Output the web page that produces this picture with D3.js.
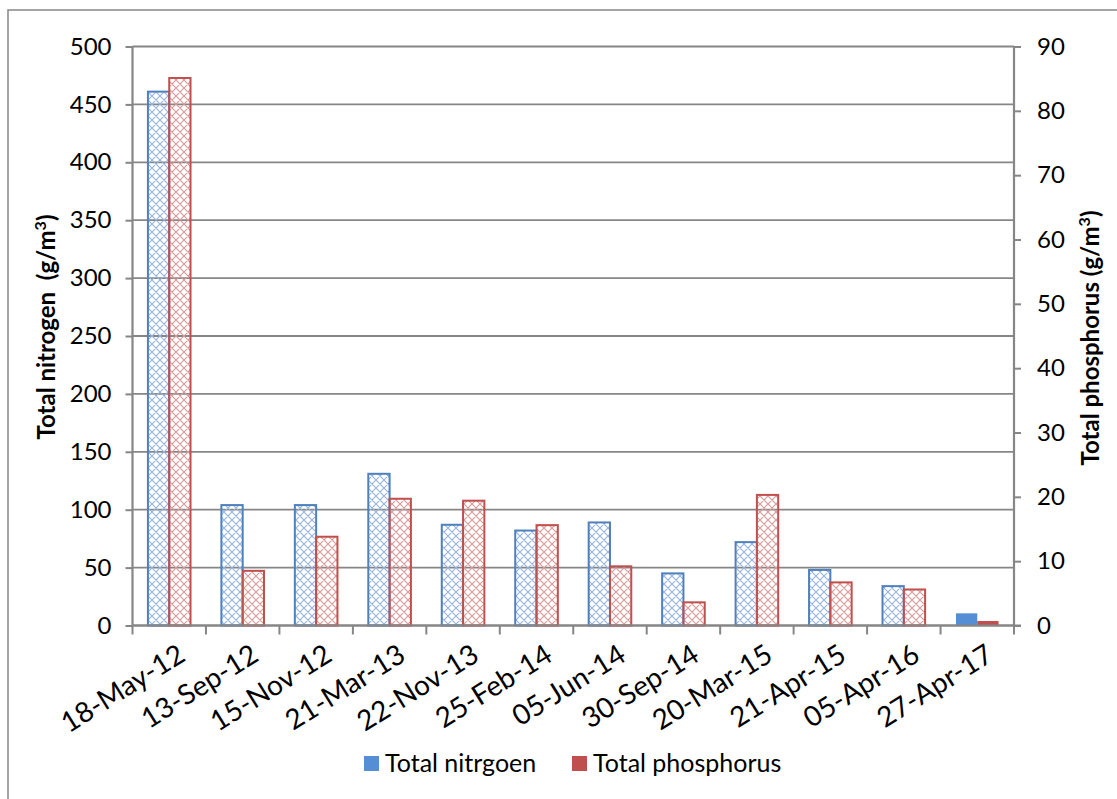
<!DOCTYPE html>
<html><head><meta charset="utf-8">
<script src="https://cdn.jsdelivr.net/npm/d3@7"></script>
<style>body{margin:0;background:#fff}svg{display:block}text{font-family:Lato,"Open Sans",sans-serif;fill:#000}</style>
</head><body><svg id="c" width="1117" height="799"></svg>
<script>
const categories = ["18-May-12","13-Sep-12","15-Nov-12","21-Mar-13","22-Nov-13","25-Feb-14","05-Jun-14","30-Sep-14","20-Mar-15","21-Apr-15","05-Apr-16","27-Apr-17"];
const nitrogen = [461,104,104,131,87,82,89,45,72,48,34,10.5];
const phosphorus = [85.1,8.5,13.8,19.7,19.4,15.6,9.2,3.6,20.3,6.7,5.6,0.7];
const leftTicks = [0,50,100,150,200,250,300,350,400,450,500];
const rightTicks = [0,10,20,30,40,50,60,70,80,90];
const solidIndex = [11];

const svg = d3.select("#c");
const L=132.5, R=1014, T=46.5, B=625.5;
const gray="#868686";

svg.append("rect").attr("x",8).attr("y",10).attr("width",1140).attr("height",830).attr("fill","none").attr("stroke",gray).attr("stroke-width",1.5);

const defs=svg.append("defs");
function pat(id,col){
  const p=defs.append("pattern").attr("id",id).attr("patternUnits","userSpaceOnUse").attr("width",8).attr("height",8);
  p.append("path").attr("d","M0,0L8,8M8,0L0,8M-1,7L1,9M7,-1L9,1M-1,1L1,-1M7,9L9,7").attr("stroke",col).attr("stroke-width",1.1).attr("fill","none");
}
pat("pb","#95b3e0"); pat("pr","#dc9896");

const x=d3.scaleBand().domain(categories).range([L,R]).paddingInner(0).paddingOuter(0);
const yL=d3.scaleLinear().domain([0,500]).range([B,T]);
const yR=d3.scaleLinear().domain([0,90]).range([B,T]);

svg.append("g").selectAll("line").data(leftTicks).join("line")
 .attr("x1",L).attr("x2",R).attr("y1",d=>yL(d)).attr("y2",d=>yL(d)).attr("stroke",gray).attr("stroke-width",1.8);

const bw=21.3;
const g=svg.append("g");
categories.forEach((c,i)=>{
  const cx=x(c)+x.bandwidth()/2;
  const solid=solidIndex.includes(i);
  g.append("rect").attr("x",cx-bw).attr("y",yL(nitrogen[i])).attr("width",bw).attr("height",B-yL(nitrogen[i]))
   .attr("fill",solid?"#558ed5":"url(#pb)").attr("stroke",solid?"none":"#4f81bd").attr("stroke-width",2);
  g.append("rect").attr("x",cx).attr("y",yR(phosphorus[i])).attr("width",bw).attr("height",B-yR(phosphorus[i]))
   .attr("fill",solid?"#c0504d":"url(#pr)").attr("stroke",solid?"none":"#c0504d").attr("stroke-width",2);
});

const axL=svg.append("g").attr("transform",`translate(${L},0)`).call(d3.axisLeft(yL).tickValues(leftTicks).tickSize(7).tickPadding(14));
const axR=svg.append("g").attr("transform",`translate(${R},0)`).call(d3.axisRight(yR).tickValues(rightTicks).tickSize(7).tickPadding(16));
[axL,axR].forEach(a=>{a.select(".domain").attr("stroke",gray).attr("stroke-width",2.2).attr("d",`M0,${T}V${B}`);
  a.selectAll(".tick line").attr("stroke",gray).attr("stroke-width",2);
  a.selectAll("text").style("font-size","24px").attr("fill","#000").style("font-family","Lato");});

svg.append("line").attr("x1",L).attr("x2",R+7).attr("y1",B).attr("y2",B).attr("stroke",gray).attr("stroke-width",2.2);
const bounds=categories.map(c=>x(c)).concat([R]);
svg.append("g").selectAll("line").data(bounds).join("line").attr("x1",d=>d).attr("x2",d=>d).attr("y1",B).attr("y2",B+9).attr("stroke",gray).attr("stroke-width",2);
svg.append("g").selectAll("text").data(categories).join("text")
 .attr("transform",d=>`translate(${x(d)+x.bandwidth()/2+7},${B+17}) rotate(-32)`)
 .attr("text-anchor","end").attr("dy","0.72em").style("font-size","28px").text(d=>d);

svg.append("text").attr("transform",`translate(55,327) rotate(-90)`).attr("text-anchor","middle")
 .style("font-size","24px").style("font-weight","bold").html('Total nitrogen&#160;&#160;(g/m<tspan font-size="16px" dy="-9">3</tspan><tspan dy="9">)</tspan>');
svg.append("text").attr("transform",`translate(1099,338) rotate(-90)`).attr("text-anchor","middle")
 .style("font-size","24px").style("font-weight","bold").html('Total phosphorus (g/m<tspan font-size="16px" dy="-9">3</tspan><tspan dy="9">)</tspan>');

const leg=[{n:"Total nitrgoen",c:"#558ed5",x:364},{n:"Total phosphorus",c:"#c0504d",x:572}];
const lg=svg.append("g").selectAll("g").data(leg).join("g");
lg.append("rect").attr("x",d=>d.x).attr("y",756).attr("width",15).attr("height",15).attr("fill",d=>d.c);
lg.append("text").attr("x",d=>d.x+21).attr("y",772).style("font-size","25px").text(d=>d.n);
</script></body></html>
